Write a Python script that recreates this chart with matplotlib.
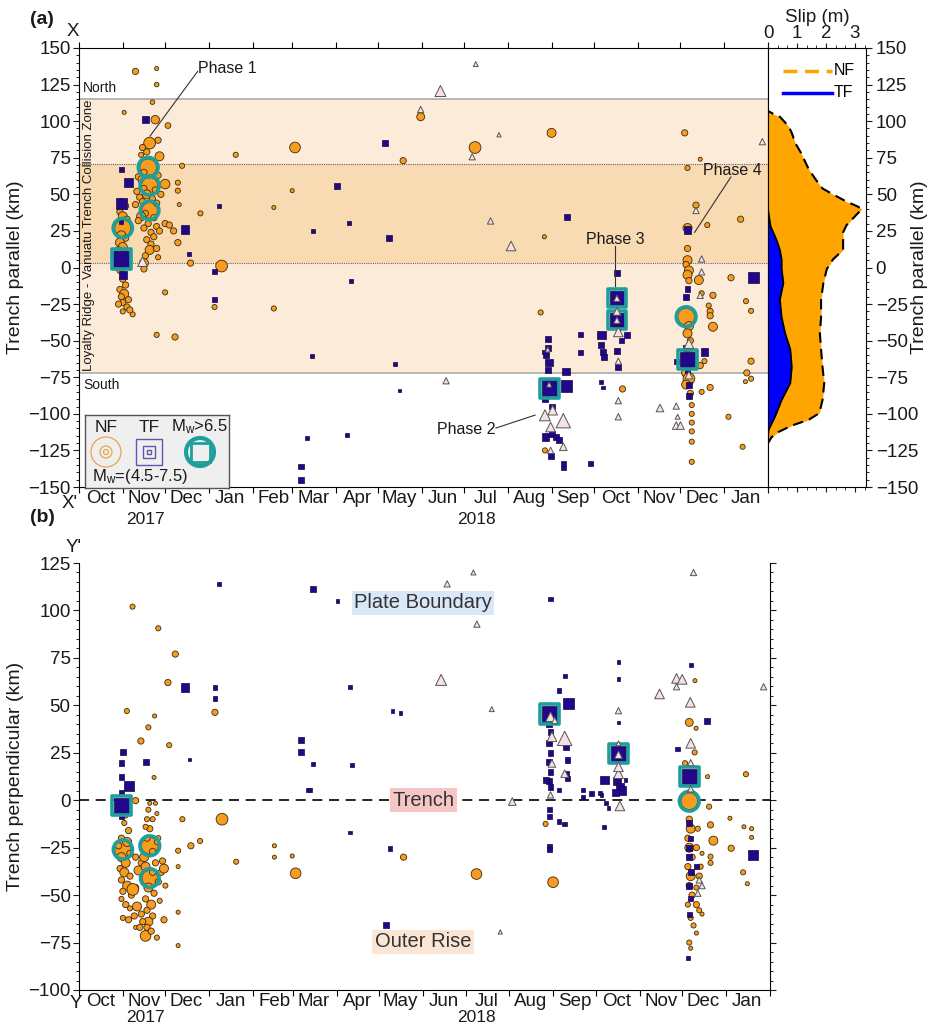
"""Seismicity along the Loyalty Ridge - Vanuatu trench, Oct 2017 - Jan 2019:
trench-parallel (a) and trench-perpendicular (b) event positions vs time,
with the cumulative slip profile on the right of (a)."""
from datetime import datetime
import numpy as np
import matplotlib
matplotlib.use("Agg")
import matplotlib.pyplot as plt
import matplotlib.dates as mdates
from matplotlib.patches import Circle, Rectangle
from matplotlib.ticker import MultipleLocator, NullFormatter

plt.rcParams["font.family"] = ["Liberation Sans", "DejaVu Sans"]
plt.rcParams["mathtext.fontset"] = "custom"
plt.rcParams["mathtext.rm"] = "Liberation Sans"
plt.rcParams["mathtext.it"] = "Liberation Sans:italic"

START = datetime(2017, 10, 1)
END = datetime(2019, 2, 1)

# events: (days since 2017-10-01, distance in km, Mw)
A_NF = [
    (40, 134, 5.0), (55, 136, 4.6), (55, 125, 4.7), (52, 113, 4.7), (32, 106, 4.6),
    (54, 101, 5.4), (63, 97, 4.9), (50, 85, 6.0), (56, 87, 5.0), (45, 82, 5.0),
    (48, 79, 5.0), (44, 77, 4.8), (57, 76, 5.5), (52, 72, 5.0), (54, 70, 5.0),
    (49, 68.5, 6.9), (46, 65, 5.0), (56, 63, 5.0), (42, 62, 5.0), (45, 60, 5.5),
    (50, 56, 6.8), (46, 54, 5.0), (54, 53, 5.0), (41, 52, 5.0), (48, 50, 5.5),
    (43, 48, 5.0), (52, 47, 5.0), (45, 45, 5.0), (40, 43, 5.0), (50, 39, 6.7),
    (47, 37, 5.0), (44, 35, 5.5), (53, 34, 5.0), (42, 32, 5.0), (49, 30, 5.0),
    (55, 28, 5.0), (46, 27, 5.0), (51, 24, 5.0), (53, 21, 5.0), (48, 19, 5.0),
    (51, 16, 5.0), (50, 12, 5.5), (47, 8, 5.0), (46, 3, 5.5), (46, -1, 5.0),
    (61, 57, 5.6), (58, 50, 5.0), (55, 44, 5.0), (61, 30, 5.0), (57, 25, 5.0),
    (55, 13, 5.0), (56, 7, 4.8),
    (30, 45, 5.0), (33, 42, 5.0), (29, 38, 5.0), (31, 35, 5.5), (34, 33, 5.0),
    (28, 30, 5.0), (31, 27, 6.8), (30, 22, 5.5), (33, 20, 5.0), (29, 17, 5.5),
    (31, 14, 5.5), (28, 12, 5.0), (32, 10, 5.0), (30, 3, 5.0), (34, 1, 5.0),
    (29, -2, 5.0), (31, -8, 5.0), (33, -12, 5.0), (29, -15, 5.0), (32, -18, 5.5),
    (30, -20, 5.0), (31, -24, 5.0), (34, -27, 5.0), (38, -32, 4.8), (28, -25, 5.0),
    (35, -22, 5.0), (31, -30, 4.8), (36, -29, 5.0),
    (70, 58, 4.8), (70, 52.5, 4.8), (71, 43, 4.6), (86, 37, 4.8), (64, 29, 5.0),
    (67, 25, 5.0), (70, 17, 5.0), (79, 3, 5.0), (101, 1, 6.0), (61, -17, 4.8),
    (96, -27, 4.8), (138, -28, 4.8), (55, -46, 4.8), (68, -47.5, 5.0), (111, 77, 4.8),
    (153, 82, 5.8), (151, 52.5, 4.6), (138, 41, 4.6), (73, 69.5, 4.8), (229.6, 73, 5.0),
    (242, 103, 5.3), (280.5, 82, 6.0), (334.7, 92, 5.5), (329.6, 21, 4.6),
    (327, -30.7, 4.8), (330, -125, 4.8), (385, -83, 5.0),
    (429, 92, 5.0), (440, 74, 4.6), (431, 68, 4.8), (437, 42.6, 5.0), (445, 29, 4.8),
    (468.6, 33, 5.0), (431, 27, 5.5), (431, 13, 5.0), (431, 5, 5.5), (430, 2, 5.0),
    (432, -2, 5.5), (431, -5, 5.5), (432, -9, 5.0), (439, -8.6, 5.5), (441, -17.6, 4.8),
    (446, -26, 4.8), (461.8, -7, 5.0), (449, -19, 5.0), (472.4, -23, 4.8),
    (430, -33.6, 6.9), (449, -40.5, 5.5), (447, -30, 5.0), (447, -33, 5.0),
    (476, -29.6, 4.8), (476, -64, 5.0), (473, -72, 5.0), (476, -76, 4.8), (472, -78, 4.6),
    (447, -82, 5.0), (460, -102, 4.8), (470, -122.5, 4.8), (434, -132.8, 4.8),
    (443, -64, 4.8), (440, -67, 5.0), (441, -85, 4.8), (432, -40, 5.5), (431, -45, 5.5),
    (433, -50, 5.0), (430, -72, 5.5), (432, -76, 6.0), (430, -80, 5.5), (433, -86, 5.0),
    (434, -94, 4.8), (434, -100, 4.8), (434, -106, 4.8), (434, -112, 4.8),
    (434, -119, 4.8), (432, -58, 5.0),
]
A_TF = [
    (30, 67, 4.8), (35, 58, 5.6), (30, 44, 6.0), (30, 31, 4.6), (31, -5, 5.5),
    (30, 6, 6.9), (47, 101, 5.3), (75, 26, 5.5), (99, 42, 4.6), (78, 9, 4.6),
    (96, -3, 4.8), (96, -22, 4.8), (217, 85, 5.0), (182.5, 56, 5.0), (191, 30.5, 4.6),
    (166, 25, 4.6), (219.6, 20.3, 5.0), (192.6, -9, 4.6), (345.7, 34.7, 5.0),
    (380.8, -3.6, 5.0), (381, -21, 6.6), (381, -36, 6.6), (431, 25.6, 5.3),
    (477.5, -7, 6.0), (165, -60.5, 4.8), (157, -136, 5.0), (157, -145, 5.0),
    (161.5, -116.6, 4.6), (190, -114.5, 4.6), (224, -66, 4.6), (227, -84, 4.6),
    (332, -49, 5.0), (332, -55, 5.0), (331, -60, 5.0), (333, -65, 5.3), (332, -70, 5.0),
    (333, -82.4, 6.8), (345, -81, 6.0), (345, -71, 5.3), (330.5, -115.7, 5.3),
    (335, -114, 5.0), (338, -115.7, 5.0), (340, -118, 5.0), (334, -129, 5.0),
    (343, -134, 4.8), (343, -137, 4.8), (362, -134, 4.8), (329, -58, 4.6),
    (330, -90, 5.0), (335, -95, 5.0),
    (370, -46, 5.5), (355.5, -46, 4.8), (355.5, -58, 4.8), (370, -53, 5.0),
    (371, -58, 5.0), (372, -61, 5.0), (384, -50, 4.8), (388, -46, 5.0), (381, -57, 5.0),
    (382, -68, 5.0), (370, -78, 4.6), (371, -82, 4.6), (381, -40, 5.0),
    (431, -63, 6.7), (443, -57.6, 5.3), (423, -64.4, 4.8), (431, -15, 5.0),
    (430, -20, 5.0), (430, -55, 5.0), (431, -70, 5.0), (432, -88, 5.0), (432, -80, 5.0),
]
A_TRI = [
    (281, 139, 4.6), (256, 120.6, 5.5), (242, 108, 4.8), (297.5, 90.7, 4.5),
    (278.5, 75.7, 4.8), (484, 86, 4.8), (291.5, 31.8, 4.8), (306, 14.7, 5.3),
    (437, 39, 4.8), (260, -77.4, 4.8), (381, -21, 4.8), (381, -30, 5.0), (382, -44, 5.3),
    (381, -36, 4.8), (382, -64, 4.8), (382, -91, 4.8), (382, -102, 4.8), (441, 5.8, 4.8),
    (441, -3, 4.8), (440, -19, 4.8), (432, -52, 5.3), (432, -73.5, 5.0),
    (411.5, -96, 5.0), (423, -94.7, 4.8), (424, -102, 4.6), (423, -108, 5.0),
    (426, -108, 5.0), (330, -101, 5.5), (335.5, -97.5, 5.3), (343, -104.7, 6.0),
    (334, -109, 5.3), (343, -122.5, 5.0), (334, -125, 4.8), (332, -56, 4.6),
    (333, -80, 4.6), (45, 4, 5.3),
]

B_NF = [
    (37.8, 102, 4.8), (56, 90.6, 4.8), (68, 77, 5.0), (62.8, 62, 5.0), (96, 46.3, 5.0),
    (33.8, 47, 4.8), (53.4, 44.4, 4.6), (49, 38.4, 4.8), (43.7, 31.2, 5.0),
    (63.7, 29, 4.8), (53, 12, 4.6), (40, -0.2, 5.0), (50, -1.6, 4.6), (54, -1.6, 4.6),
    (55, -7, 4.6), (73, -10, 4.8), (101, -10, 6.0), (79, -24, 5.0), (85.5, -21.5, 4.8),
    (70, -26.6, 4.8), (70, -35, 4.6), (111, -32.4, 4.8), (138, -24, 4.6), (138, -30, 4.6),
    (150.6, -29.4, 4.6), (153, -38.5, 5.8), (70, -59, 4.6), (60, -63, 5.0),
    (55, -72.4, 4.8), (47, -71.5, 5.8), (70, -76.6, 4.6), (40, -67, 4.6),
    (229.2, -30, 5.0), (280.7, -38.9, 5.8), (334.8, -43.2, 5.8), (329.5, -12.5, 4.8),
    (31, -26, 6.8), (50, -24, 6.9), (50, -41, 6.7),
    (32, -12, 4.8), (35, -16, 5.0), (30, -20, 5.0), (34, -22, 5.5), (28, -24, 5.0),
    (36, -28, 5.0), (30, -30, 5.5), (33, -33, 5.5), (29, -36, 5.0), (32, -38, 5.5),
    (36, -40, 5.0), (30, -42, 5.0), (34, -45, 5.5), (31, -48, 5.0), (37, -50, 5.0),
    (30, -52, 4.8), (33, -55, 5.0), (36, -57, 4.8), (40, -46, 5.0), (42, -37, 5.5),
    (44, -33, 5.0), (46, -30, 5.5), (48, -20, 5.0), (50, -15, 5.0), (52, -10, 4.8),
    (49, -5, 4.8), (52, -27, 5.0), (54, -33, 5.0), (47, -35, 5.5), (52, -38, 5.0),
    (56, -43, 5.0), (49, -46, 5.5), (53, -49, 5.0), (47, -52, 5.0), (51, -55, 5.5),
    (48, -58, 5.0), (52, -61, 5.0), (49, -64, 5.5), (44, -60, 5.0), (41, -56, 5.5),
    (38, -47, 6.0), (40, -30, 5.0), (58, -38, 5.0), (60, -36, 5.5), (59, -32, 5.0),
    (56, -20, 4.8), (55, -22, 4.8), (61, -45, 4.8), (57, -53, 4.8), (45, -64, 5.0),
    (43, -67, 5.0), (48, -67, 5.0), (51, -69, 5.0), (31, -62, 4.8), (35, -63, 5.0),
    (39, -61, 5.0), (48, -10, 4.8), (47, -14, 4.8), (33, -8, 4.8),
    (431, -0.5, 6.9), (431, 41, 5.3), (435, 63, 4.6), (435.8, 37.9, 4.6),
    (434.8, 25.2, 4.8), (428, 19.5, 4.8), (443.9, 12.4, 4.6), (471, 13.7, 4.8),
    (445, -3.4, 4.8), (459.7, -9.5, 4.6), (446, -13, 5.0), (448, -21.3, 5.5),
    (469.6, -14, 4.6), (475, -15, 4.6), (475, -19.6, 4.6), (460.6, -25.3, 5.0),
    (446, -29.7, 4.8), (446, -33, 4.8), (440, -28, 4.6), (469, -38, 4.8), (472, -44, 4.6),
    (431, -10, 5.0), (432, -15, 5.5), (430, -20, 5.0), (431, -25, 5.5), (433, -30, 5.0),
    (430, -35, 5.0), (432, -40, 5.5), (431, -45, 5.0), (433, -50, 5.0), (430, -55, 4.8),
    (432, -62, 4.8), (434, -66, 4.8), (436, -70, 4.6), (431, -75, 4.8), (432, -78, 4.6),
    (436, -46, 4.8), (438, -40, 5.0), (439, -35, 4.8), (436, -55, 5.0), (438, -58, 4.8),
    (440, -60, 4.6), (436, -25, 5.0), (437, -15, 4.8),
]
B_TF = [
    (98.7, 113.8, 4.6), (75, 59.5, 5.5), (96, 59.3, 4.8), (96, 53.7, 4.8),
    (31, 25.6, 5.0), (30, 19.4, 5.0), (47, 20.3, 5.0), (78, 21.5, 4.6), (30, 12.4, 5.0),
    (35, 7.5, 5.8), (30, 4, 4.8), (30, -2.8, 6.9), (30, -8.4, 5.0), (157, 31.8, 5.0),
    (157, 25.6, 5.0), (162, 5.3, 4.6), (165.5, 111.1, 5.0), (182.5, 105, 4.6),
    (191.4, 59.8, 4.6), (221.4, 47, 4.6), (227, 45.8, 4.6), (165.5, 19, 4.6),
    (192.6, 18.4, 4.6), (163, 5.4, 4.6), (191.4, -17, 4.6), (219.6, -25.5, 4.8),
    (217, -65.6, 5.0), (332.9, 106, 4.8), (332.4, 45.4, 6.8), (345.4, 51, 6.0),
    (339, 57.7, 4.8), (343, 65.6, 4.6), (332, 40, 5.0), (333, 36, 5.0), (332, 30, 5.0),
    (333, 25, 5.0), (332, 20, 5.0), (333, 15, 5.0), (332, 10, 5.0), (333, 7, 5.0),
    (344, 28, 5.0), (345, 21, 5.0), (344, 14, 4.8), (345, 11.5, 4.8), (330, 10.7, 5.0),
    (339, 5.4, 4.8), (332, -5, 4.8), (332, -8.6, 4.8), (339, -11, 4.8), (343, -12.5, 4.8),
    (332, -24.5, 4.8), (332, -26, 4.8), (356, 5.4, 4.6), (356, 1.9, 4.6), (362, 3.6, 4.8),
    (369, 2.7, 4.6), (368, 4, 4.6), (372, -1.3, 4.6), (374, -4.2, 4.6), (371, -14.3, 4.6),
    (381, 24.7, 6.7), (381, 73, 4.6), (381, 63.7, 4.6), (381, 41, 4.6), (380, 10, 5.5),
    (382, 7, 5.5), (383, 5, 5.5), (379, 4, 5.3), (371, 10.6, 5.5), (386, 10.6, 4.6),
    (431, 12.4, 6.7), (443.8, 41.7, 5.0), (432, 71.3, 4.6), (422.7, 27, 4.8),
    (475.7, -28.8, 5.8), (431, -12, 5.0), (432, -20, 4.8), (431, -25, 5.0), (431, -30, 5.0),
    (432, -38, 5.0), (431, -45, 5.0), (432, -52, 4.8), (431, -60, 4.8), (430, -83, 4.6),
    (436, -35, 4.8),
]
B_TRI = [
    (278.5, 120, 4.6), (260, 114, 4.8), (281, 92.8, 4.8), (255.7, 63.4, 5.5),
    (291.5, 48, 4.6), (306, -0.7, 5.0), (297.5, -69.4, 4.5), (333, 44, 5.3),
    (336, 42, 4.8), (334, 33.5, 5.3), (343, 32.6, 6.0), (334, 19.4, 5.0), (343, 14, 5.0),
    (333, 2.8, 4.8), (381, 47.2, 4.8), (381, 24, 5.0), (381, 14, 5.3), (381, 17.6, 5.3),
    (382, -3, 5.3), (381, 30, 4.6), (422, 64.2, 5.3), (426, 63.7, 5.3), (422, 59.8, 4.8),
    (410, 56, 5.3), (431.7, 51.6, 5.3), (432, 30, 5.3), (432, 19.8, 4.8), (432, 6, 4.8),
    (483.5, 59.8, 4.8), (434, 120, 4.8), (438, -42, 4.8), (440, -45, 4.8), (437, -49, 4.8),
]

# slip profiles along strike (km, m)
SLIP_KM = [110, 107, 105, 103, 96.5, 92, 85, 79, 74, 67, 60, 54, 50, 45, 42, 40, 35,
           29, 24, 15, 12, 5.5, -1, -10.6, -22, -34, -45, -56, -68, -79, -90.6,
           -99.5, -104, -108, -112.5, -116, -120]
SLIP_NF = [0, 0, 0.18, 0.41, 0.71, 0.82, 0.94, 1.12, 1.24, 1.41, 1.65, 1.88, 2.24,
           2.71, 3.06, 3.24, 3.0, 2.71, 2.59, 2.59, 2.59, 2.24, 2.03, 1.91, 1.83, 1.83,
           1.79, 1.83, 1.88, 1.94, 1.88, 1.77, 1.41, 0.82, 0.35, 0.12, 0]
TF_KM = [40, 37, 28, 19, 12, 5.5, -1, -10.6, -22, -34, -45, -56, -68, -79, -90.6,
         -102, -111, -116]
SLIP_TF = [0, 0.02, 0.09, 0.29, 0.41, 0.47, 0.47, 0.53, 0.41, 0.47, 0.59, 0.77, 0.82,
           0.77, 0.47, 0.24, 0.02, 0]

ZONE_OUTER = (-72, 115)
ZONE_INNER = (3, 71)

NF_C, TF_C, TRI_C, TEAL = "#f79c1e", "#23078a", "#f6e2e2", "#1f9f9c"
INK = "#1a1a1a"
FS = 13.5
W, H = 930, 1025
X0 = mdates.date2num(START)


def fx(px):
    return px / W


def fy(py):
    return 1 - py / H


def diam(mw):
    return 3.5 + (np.asarray(mw) - 4.5) * 5.5     # pixels


def draw_events(ax, nf, tf, tri):
    nf, tf, tri = np.array(nf), np.array(tf), np.array(tri)
    ax.scatter(X0 + nf[:, 0], nf[:, 1], s=(diam(nf[:, 2]) * 0.72) ** 2, marker="o",
               c=NF_C, edgecolors="#3b2a12", linewidths=0.6, zorder=4)
    ax.scatter(X0 + tf[:, 0], tf[:, 1], s=(diam(tf[:, 2]) * 0.68) ** 2, marker="s",
               c=TF_C, edgecolors="#14083f", linewidths=0.5, zorder=5)
    for arr, m in ((nf, "o"), (tf, "s")):
        big = arr[arr[:, 2] > 6.5]
        ax.scatter(X0 + big[:, 0], big[:, 1], s=((diam(big[:, 2]) + 3) * 0.72) ** 2,
                   marker=m, facecolors="none", edgecolors=TEAL, linewidths=2.6,
                   zorder=6)
    ax.scatter(X0 + tri[:, 0], tri[:, 1], s=(diam(tri[:, 2]) * 0.88) ** 2, marker="^",
               c=TRI_C, edgecolors="#555555", linewidths=0.7, zorder=7)


def date_axis(ax):
    ax.set_xlim(mdates.date2num(START), mdates.date2num(END))
    ax.xaxis.set_major_locator(mdates.MonthLocator())
    ax.xaxis.set_major_formatter(NullFormatter())
    ax.xaxis.set_minor_locator(mdates.MonthLocator(bymonthday=16))
    ax.xaxis.set_minor_formatter(mdates.DateFormatter("%b"))
    ax.tick_params(axis="x", which="major", length=4, width=0.8)
    ax.tick_params(axis="x", which="minor", length=0, labelsize=FS, pad=2,
                   colors=INK)
    ax.yaxis.set_major_locator(MultipleLocator(25))
    ax.yaxis.set_minor_locator(MultipleLocator(5))
    ax.tick_params(axis="y", which="major", length=4, labelsize=FS, colors=INK, pad=2)
    ax.tick_params(axis="y", which="minor", length=2)
    ax.yaxis.set_major_formatter(lambda v, p: f"{v:.0f}".replace("-", "\u2212"))


fig = plt.figure(figsize=(W / 100, H / 100), dpi=100)

# ---- panel (a) -------------------------------------------------------------
ax = fig.add_axes([fx(79), fy(487), fx(689), 439 / H])
ax.axhspan(*ZONE_OUTER, color="#fdebd9", lw=0, zorder=0)
ax.axhspan(*ZONE_INNER, color="#f8dab3", lw=0, zorder=0)
for yv in ZONE_OUTER:
    ax.axhline(yv, color="#aaaaaa", lw=1.2, zorder=1)
for yv in ZONE_INNER:
    ax.axhline(yv, color="#666666", lw=0.8, ls=(0, (1, 1)), zorder=1)
draw_events(ax, A_NF, A_TF, A_TRI)
ax.set_ylim(-150, 150)
date_axis(ax)
ax.tick_params(axis="x", which="major", top=True)
ax.set_ylabel("Trench parallel (km)", fontsize=14, color=INK, labelpad=3)
ax.text(0.006, 122.5, "North", transform=ax.get_yaxis_transform(), fontsize=10,
        va="center", color=INK)
ax.text(0.006, -80, "South", transform=ax.get_yaxis_transform(), fontsize=10,
        va="center", color=INK)
ax.text(0.014, 22, "Loyalty Ridge - Vanuatu Trench Collision Zone", rotation=90,
        transform=ax.get_yaxis_transform(), fontsize=9.5, ha="center", va="center",
        color=INK)

# phase annotations (days since start, km)
for (d0, k0), (d1, k1), (dt, kt), txt in [
        ((84, 134), (50.3, 89.8), (84, 136), "Phase 1"),
        ((295.3, -109.7), (323, -100.9), (274, -110.4), "Phase 2"),
        ((379.6, 14.7), (379.6, -12.7), (379.6, 19), "Phase 3"),
        ((461.7, 61.8), (436, 24), (462.5, 66), "Phase 4")]:
    ax.plot([X0 + d0, X0 + d1], [k0, k1], color="#333333", lw=0.8, zorder=8)
    ax.text(X0 + dt, kt, txt, fontsize=11.5, color=INK, zorder=8,
            ha="left" if txt == "Phase 1" else "center", va="center")

# ---- slip profile -------------------------------------------------------------
axs = fig.add_axes([fx(768), fy(487), fx(98), 439 / H])
axs.fill_betweenx(SLIP_KM, 0, SLIP_NF, color="#ffa500", lw=0, zorder=1)
axs.plot(SLIP_NF, SLIP_KM, color="k", lw=1.5, ls=(0, (5, 3)), zorder=3)
axs.fill_betweenx(TF_KM, 0, SLIP_TF, color="#0000ff", lw=0, zorder=2)
axs.plot(SLIP_TF, TF_KM, color="k", lw=1.3, zorder=3)
axs.set_xlim(0, 3.38)
axs.set_ylim(-150, 150)
axs.xaxis.tick_top()
axs.xaxis.set_label_position("top")
axs.set_xlabel("Slip (m)", fontsize=FS, color=INK, labelpad=2)
axs.xaxis.set_major_locator(MultipleLocator(1))
axs.xaxis.set_minor_locator(MultipleLocator(1 / 3))
axs.tick_params(axis="x", which="both", top=True, bottom=True, labelsize=FS,
                pad=1, colors=INK)
axs.tick_params(axis="x", which="minor", length=2)
axs.yaxis.tick_right()
axs.yaxis.set_label_position("right")
axs.yaxis.set_major_locator(MultipleLocator(25))
axs.yaxis.set_minor_locator(MultipleLocator(5))
axs.tick_params(axis="y", which="major", length=4, labelsize=FS, colors=INK, pad=3)
axs.tick_params(axis="y", which="minor", length=2)
axs.yaxis.set_major_formatter(lambda v, p: f"{v:.0f}".replace("-", "\u2212"))
axs.set_ylabel("Trench parallel (km)", fontsize=14, color=INK, labelpad=-5)
axs.plot([0.15, 0.65], [0.948, 0.948], transform=axs.transAxes, color="#ffa500",
         lw=2.5, ls=(0, (4, 2.2)))
axs.text(0.67, 0.948, "NF", transform=axs.transAxes, fontsize=11.5, va="center")
axs.plot([0.15, 0.65], [0.898, 0.898], transform=axs.transAxes, color="#0000ff",
         lw=2.5)
axs.text(0.67, 0.898, "TF", transform=axs.transAxes, fontsize=11.5, va="center")

# ---- magnitude key --------------------------------------------------------------
key = fig.add_axes([fx(85), fy(488), fx(144), 73 / H])
key.set_xlim(0, 144)
key.set_ylim(73, 0)
key.set_facecolor("#efefef")
key.set_xticks([])
key.set_yticks([])
for sp in key.spines.values():
    sp.set_color("#555555")
    sp.set_linewidth(1)
key.set_zorder(9)
for r in (15, 6, 2.5):
    key.add_patch(Circle((21, 37), r, fill=False, ec="#e8a550", lw=0.9))
for h in (13, 5.7, 2):
    key.add_patch(Rectangle((64 - h, 37 - h), 2 * h, 2 * h, fill=False,
                            ec="#6a52b0", lw=1))
key.add_patch(Circle((115, 37), 14, fill=False, ec=TEAL, lw=3))
key.add_patch(Rectangle((115 - 9.5, 37 - 9.5), 19, 19, fill=False, ec=TEAL, lw=2))
key.text(21, 12, "NF", ha="center", va="center", fontsize=12.5, color=INK)
key.text(64, 12, "TF", ha="center", va="center", fontsize=12.5, color=INK)
key.text(114, 12, r"M$_\mathrm{w}$>6.5", ha="center", va="center", fontsize=12,
         color=INK)
key.text(7, 61, r"M$_\mathrm{w}$=(4.5-7.5)", ha="left", va="center", fontsize=12,
         color=INK)

# ---- panel (b) -------------------------------------------------------------
bx = fig.add_axes([fx(79), fy(990), fx(691), 427 / H])
bx.axhline(0, color="k", lw=1.2, ls=(0, (6, 4)), zorder=2)
draw_events(bx, B_NF, B_TF, B_TRI)
bx.set_ylim(-100, 125)
date_axis(bx)
bx.spines["top"].set_visible(False)
bx.tick_params(axis="y", which="both", right=True)
bx.set_ylabel("Trench perpendicular (km)", fontsize=14, color=INK, labelpad=3)
for kb, txt, bg in [(104, "Plate Boundary", "#d8e8f8"), (0, "Trench", "#f6c6c6"),
                    (-74.7, "Outer Rise", "#fbe6d6")]:
    bx.text(X0 + 243, kb, txt, ha="center", va="center", fontsize=14.5,
            color="#333333", zorder=9,
            bbox=dict(boxstyle="square,pad=0.12", fc=bg, ec="none"))

# ---- figure labels ---------------------------------------------------------
fig.text(fx(30), fy(20), "(a)", fontsize=14, fontweight="bold", va="center", color=INK)
fig.text(fx(30), fy(517), "(b)", fontsize=14, fontweight="bold", va="center", color=INK)
fig.text(fx(73), fy(31), "X", fontsize=FS, va="center", ha="center", color=INK)
fig.text(fx(70), fy(504), "X'", fontsize=FS, va="center", ha="center", color=INK)
fig.text(fx(74), fy(548), "Y'", fontsize=FS, va="center", ha="center", color=INK)
fig.text(fx(76), fy(1004), "Y", fontsize=FS, va="center", ha="center", color=INK)
for yy in (519, 1017):
    fig.text(fx(145), fy(yy), "2017", fontsize=12.5, ha="center", va="center",
             color=INK)
    fig.text(fx(476), fy(yy), "2018", fontsize=12.5, ha="center", va="center",
             color=INK)

fig.savefig("out.png", dpi=100, facecolor="white")
